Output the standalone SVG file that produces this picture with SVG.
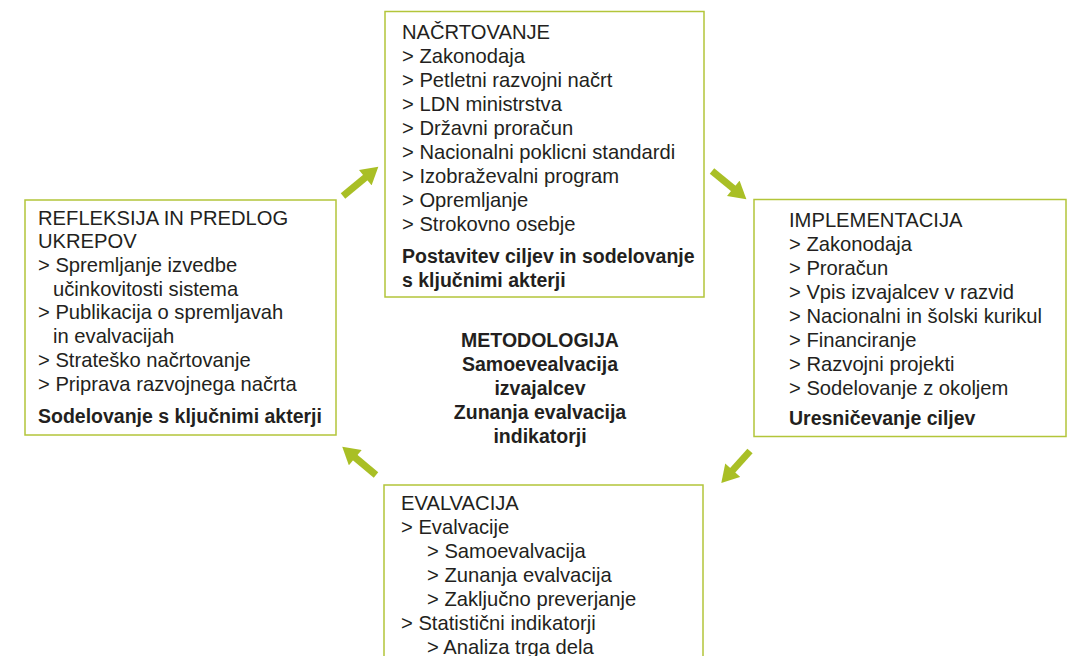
<svg xmlns="http://www.w3.org/2000/svg" width="1068" height="656" viewBox="0 0 1068 656">
<style>
.box{fill:#ffffff;stroke:#b3c53a;stroke-width:1.5}
.t{font-family:"Liberation Sans",Arial,sans-serif;font-size:20.2px;fill:#231f20}
.b{font-family:"Liberation Sans",Arial,sans-serif;font-size:19.5px;font-weight:bold;fill:#231f20}
.c{text-anchor:middle}
.arr{stroke:#a9bf25;stroke-width:7;fill:none}
</style>
<defs>
<marker id="head" markerUnits="userSpaceOnUse" markerWidth="18" markerHeight="20" viewBox="0 0 17 20" refX="1" refY="10" orient="auto">
<path d="M0,0 L17,10 L0,20 Z" fill="#a9bf25"/>
</marker>
</defs>
<rect width="1068" height="656" fill="#ffffff"/>
<g id="connectors">
<line class="arr" x1="343" y1="196" x2="366" y2="177" marker-end="url(#head)"/>
<line class="arr" x1="712" y1="171" x2="734" y2="189" marker-end="url(#head)"/>
<line class="arr" x1="750" y1="451" x2="732" y2="471" marker-end="url(#head)"/>
<line class="arr" x1="376" y1="475" x2="354.5" y2="457" marker-end="url(#head)"/>
</g>
<g id="nacrtovanje">
<rect class="box" x="385" y="11.5" width="319" height="285.5"/>
<text class="t" x="402" y="39">NAČRTOVANJE</text>
<text class="t" x="402" y="63">&gt; Zakonodaja</text>
<text class="t" x="402" y="87">&gt; Petletni razvojni načrt</text>
<text class="t" x="402" y="111">&gt; LDN ministrstva</text>
<text class="t" x="402" y="135">&gt; Državni proračun</text>
<text class="t" x="402" y="159">&gt; Nacionalni poklicni standardi</text>
<text class="t" x="402" y="183">&gt; Izobraževalni program</text>
<text class="t" x="402" y="207">&gt; Opremljanje</text>
<text class="t" x="402" y="231">&gt; Strokovno osebje</text>
<text class="b" x="402" y="263">Postavitev ciljev in sodelovanje</text>
<text class="b" x="402" y="287">s ključnimi akterji</text>
</g>
<g id="implementacija">
<rect class="box" x="754" y="199.5" width="312" height="237"/>
<text class="t" x="789" y="227">IMPLEMENTACIJA</text>
<text class="t" x="789" y="251">&gt; Zakonodaja</text>
<text class="t" x="789" y="275">&gt; Proračun</text>
<text class="t" x="789" y="299">&gt; Vpis izvajalcev v razvid</text>
<text class="t" x="789" y="323">&gt; Nacionalni in šolski kurikul</text>
<text class="t" x="789" y="347">&gt; Financiranje</text>
<text class="t" x="789" y="371">&gt; Razvojni projekti</text>
<text class="t" x="789" y="395">&gt; Sodelovanje z okoljem</text>
<text class="b" x="789" y="425">Uresničevanje ciljev</text>
</g>
<g id="evalvacija">
<rect class="box" x="384" y="485" width="319" height="180"/>
<text class="t" x="401" y="510">EVALVACIJA</text>
<text class="t" x="401" y="534">&gt; Evalvacije</text>
<text class="t" x="427" y="558">&gt; Samoevalvacija</text>
<text class="t" x="427" y="582">&gt; Zunanja evalvacija</text>
<text class="t" x="427" y="606">&gt; Zaključno preverjanje</text>
<text class="t" x="401" y="630">&gt; Statistični indikatorji</text>
<text class="t" x="427" y="654">&gt; Analiza trga dela</text>
</g>
<g id="refleksija">
<rect class="box" x="25" y="200" width="311" height="235"/>
<text class="t" x="38" y="225">REFLEKSIJA IN PREDLOG</text>
<text class="t" x="38" y="248">UKREPOV</text>
<text class="t" x="38" y="272">&gt; Spremljanje izvedbe</text>
<text class="t" x="53" y="296">učinkovitosti sistema</text>
<text class="t" x="38" y="319">&gt; Publikacija o spremljavah</text>
<text class="t" x="53" y="343">in evalvacijah</text>
<text class="t" x="38" y="367">&gt; Strateško načrtovanje</text>
<text class="t" x="38" y="391">&gt; Priprava razvojnega načrta</text>
<text class="b" x="38" y="423">Sodelovanje s ključnimi akterji</text>
</g>
<g id="metodologija">
<text class="b c" x="540" y="347">METODOLOGIJA</text>
<text class="b c" x="540" y="371">Samoevealvacija</text>
<text class="b c" x="540" y="395">izvajalcev</text>
<text class="b c" x="540" y="419">Zunanja evalvacija</text>
<text class="b c" x="540" y="443">indikatorji</text>
</g>
</svg>
